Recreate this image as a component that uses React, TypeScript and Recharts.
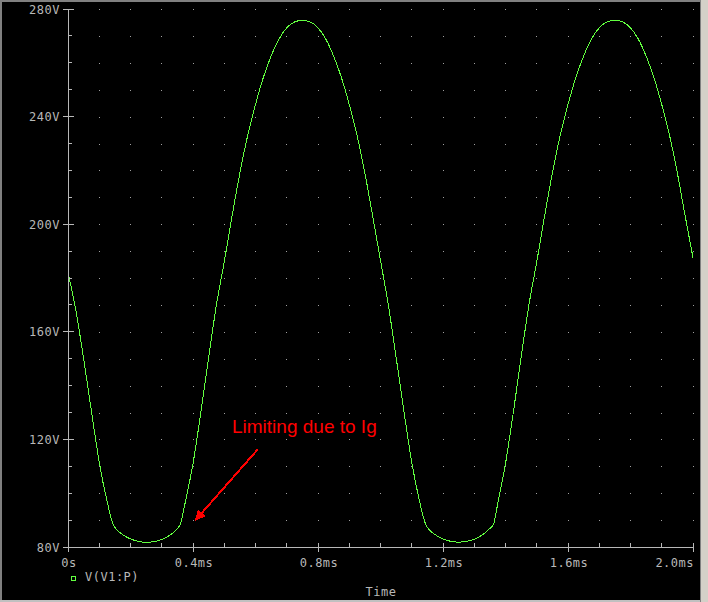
import React from 'react';
import { LineChart, Line, XAxis, YAxis, CartesianGrid, ReferenceLine } from 'recharts';

// time axis (ms) and V(V1:P)
const timeMs = [
  0, 0.025, 0.05, 0.075, 0.1, 0.125, 0.144, 0.15, 0.175, 0.2, 0.225, 0.25, 0.275, 0.3, 0.325, 0.35, 0.36, 0.375,
  0.4, 0.425, 0.45, 0.475, 0.5, 0.525, 0.55, 0.575, 0.6, 0.625, 0.65, 0.675, 0.7, 0.725, 0.75, 0.775, 0.8, 0.825,
  0.85, 0.875, 0.9, 0.925, 0.95, 0.975, 1.0, 1.025, 1.05, 1.075, 1.1, 1.125, 1.144, 1.15, 1.175, 1.2, 1.225, 1.25,
  1.275, 1.3, 1.325, 1.35, 1.362, 1.375, 1.4, 1.425, 1.45, 1.475, 1.5, 1.525, 1.55, 1.575, 1.6, 1.625, 1.65, 1.675,
  1.7, 1.725, 1.75, 1.775, 1.8, 1.825, 1.85, 1.875, 1.9, 1.925, 1.95, 1.975, 2.0,
];
const voltage = [
  182, 168, 150, 130.5, 111.5, 97, 88.6, 87.3, 84.6, 83.0, 82.1, 81.7, 82.0, 82.8, 84.3, 86.8, 88.6, 96.5,
  111, 130, 150.5, 170, 186, 203, 219, 233, 244.5, 254.5, 262.5, 268.8, 273, 275.2, 275.8, 275.2, 273, 268.8,
  262.5, 254.5, 244.5, 233, 219, 203, 186.5, 170, 150.5, 130.5, 111.5, 97, 88.6, 87.3, 84.6, 83, 82.1, 81.8,
  82.1, 82.9, 84.4, 86.9, 88.6, 96, 111, 130, 150.5, 170, 186, 203, 219, 233, 244.5, 254.5, 262.5, 268.8,
  273, 275.2, 275.8, 275.2, 273, 268.8, 262.5, 254.5, 244.5, 233, 219, 203, 187.5,
];

const xTicks = [0, 0.1, 0.2, 0.3, 0.4, 0.5, 0.6, 0.7, 0.8, 0.9, 1.0, 1.1, 1.2, 1.3, 1.4, 1.5, 1.6, 1.7, 1.8, 1.9, 2.0];
const xMajor = [0, 0.4, 0.8, 1.2, 1.6, 2.0];
const xMajorLabels = ['0s', '0.4ms', '0.8ms', '1.2ms', '1.6ms', '2.0ms'];
const yTicks = [80, 90, 100, 110, 120, 130, 140, 150, 160, 170, 180, 190, 200, 210, 220, 230, 240, 250, 260, 270, 280];
const yMajor = [80, 120, 160, 200, 240, 280];
const yMajorLabels = ['80V', '120V', '160V', '200V', '240V', '280V'];

const data = timeMs.map((t, i) => ({ t, v: voltage[i] }));

const AXIS = '#b8b8b8';
const TRACE = '#62ff40';
const MONO = '"DejaVu Sans Mono", monospace';

const majorIndex = (list: number[], v: number) => list.findIndex((m) => Math.abs(m - v) < 1e-6);

const BottomTick = (props: any) => {
  const { x, y, payload } = props;
  const i = majorIndex(xMajor, payload.value);
  if (i < 0) return <line x1={x} y1={y} x2={x} y2={y - 4} stroke={AXIS} />;
  const last = i === xMajor.length - 1;
  return (
    <g>
      <line x1={x} y1={y - 4} x2={x} y2={y + 5} stroke={AXIS} />
      <text x={last ? x + 1 : x + 1} y={y + 20} textAnchor={last ? 'end' : 'middle'} fill={AXIS}
        fontFamily={MONO} fontSize={12} letterSpacing={0.5}>
        {xMajorLabels[i]}
      </text>
    </g>
  );
};

const TopTick = (props: any) => {
  const { x, y, payload } = props;
  const len = majorIndex(xMajor, payload.value) < 0 ? 4 : 6;
  return <line x1={x} y1={y} x2={x} y2={y + len} stroke={AXIS} />;
};

const LeftTick = (props: any) => {
  const { x, y, payload } = props;
  const i = majorIndex(yMajor, payload.value);
  if (i < 0) return <line x1={x} y1={y} x2={x + 4} y2={y} stroke={AXIS} />;
  return (
    <g>
      <line x1={x - 5} y1={y} x2={x + 6} y2={y} stroke={AXIS} />
      <text x={x - 8} y={y + 4.5} textAnchor="end" fill={AXIS} fontFamily={MONO} fontSize={12} letterSpacing={0.5}>
        {yMajorLabels[i]}
      </text>
    </g>
  );
};

const RightTick = (props: any) => {
  const { x, y, payload } = props;
  const len = majorIndex(yMajor, payload.value) < 0 ? 4 : 6;
  return <line x1={x} y1={y} x2={x - len} y2={y} stroke={AXIS} />;
};

const Arrow = (props: any) => {
  const { x1, y1, x2, y2 } = props;
  const dx = x2 - x1;
  const dy = y2 - y1;
  const len = Math.sqrt(dx * dx + dy * dy);
  const ux = dx / len;
  const uy = dy / len;
  const head = 11;
  const bx = x2 - ux * head;
  const by = y2 - uy * head;
  return (
    <g>
      <line x1={x1} y1={y1} x2={bx} y2={by} stroke="#ff0000" strokeWidth={2} />
      <polygon
        points={`${x2},${y2} ${bx - uy * 5},${by + ux * 5} ${bx + uy * 5},${by - ux * 5}`}
        fill="#ff0000"
      />
    </g>
  );
};

export default function App() {
  return (
    <div style={{ position: 'absolute', left: 0, top: 0, width: 708, height: 602, background: '#000', overflow: 'hidden' }}>
      <div style={{ position: 'absolute', left: 0, top: 0, width: 708, height: 2, background: '#808080' }} />
      <div style={{ position: 'absolute', left: 0, top: 0, width: 2, height: 602, background: '#808080' }} />
      <div style={{ position: 'absolute', left: 0, top: 600, width: 708, height: 2, background: '#c0c0c0' }} />
      <div style={{ position: 'absolute', left: 700, top: 0, width: 8, height: 602, background: '#d4d0c8', borderLeft: '1px solid #808080', boxSizing: 'border-box' }} />
      <div style={{ position: 'absolute', left: 0, top: 0, shapeRendering: 'crispEdges' }}>
        <LineChart width={708} height={602} data={data} margin={{ top: 9, right: 15, bottom: 35, left: 0 }}>
          <CartesianGrid horizontal={false} stroke="#a0a0a0" strokeDasharray={`1 ${538 / 20 - 1}`} />
          <XAxis dataKey="t" type="number" domain={[0, 2]} ticks={xTicks} interval={0} allowDataOverflow
            height={20} tickSize={0} tickMargin={0} tickLine={false} axisLine={{ stroke: AXIS }} tick={BottomTick} />
          <XAxis xAxisId="top" orientation="top" dataKey="t" type="number" domain={[0, 2]} ticks={xTicks} interval={0}
            allowDataOverflow height={0} tickSize={0} tickMargin={0} tickLine={false} axisLine={{ stroke: AXIS }} tick={TopTick} />
          <YAxis type="number" domain={[80, 280]} ticks={yTicks} interval={0} allowDataOverflow width={68}
            tickSize={0} tickMargin={0} tickLine={false} axisLine={{ stroke: AXIS }} tick={LeftTick} />
          <YAxis yAxisId="right" orientation="right" type="number" domain={[80, 280]} ticks={yTicks} interval={0}
            allowDataOverflow width={0} tickSize={0} tickMargin={0} tickLine={false} axisLine={{ stroke: AXIS }} tick={RightTick} />
          <Line type="monotone" dataKey="v" stroke={TRACE} strokeWidth={1} dot={false} isAnimationActive={false} />
          <ReferenceLine segment={[{ x: 0.608, y: 116.4 }, { x: 0.405, y: 89.6 }]} shape={Arrow} />
        </LineChart>
      </div>
      <div style={{ position: 'absolute', left: 232, top: 417, fontFamily: '"Liberation Sans", Arial, sans-serif', fontSize: 19, lineHeight: '19px', color: '#ff0000', whiteSpace: 'nowrap' }}>
        Limiting due to Ig
      </div>
      <div style={{ position: 'absolute', left: 71, top: 576, width: 5, height: 5, border: `1px solid ${TRACE}`, boxSizing: 'border-box' }} />
      <div style={{ position: 'absolute', left: 85, top: 571, fontFamily: MONO, fontSize: 12, letterSpacing: 0.5, lineHeight: '13px', color: AXIS, whiteSpace: 'nowrap' }}>
        V(V1:P)
      </div>
      <div style={{ position: 'absolute', left: 381, top: 586, transform: 'translateX(-50%)', fontFamily: MONO, fontSize: 12, letterSpacing: 0.5, lineHeight: '13px', color: AXIS, whiteSpace: 'nowrap' }}>
        Time
      </div>
    </div>
  );
}
